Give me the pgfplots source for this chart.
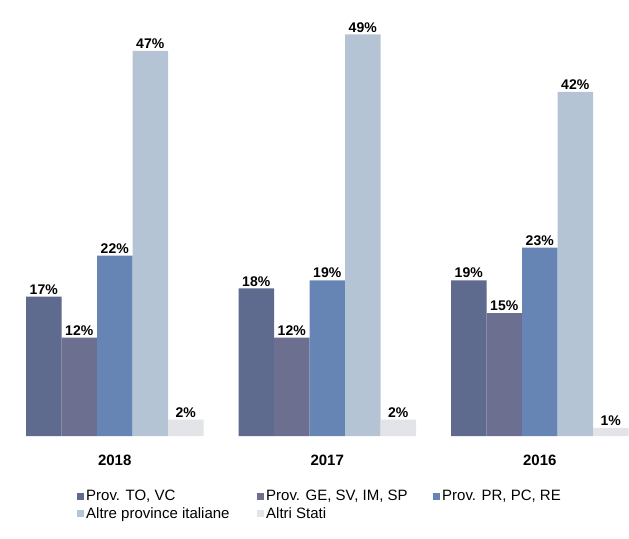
\documentclass[border=0pt]{standalone}
\usepackage{fontspec}
\setmainfont{Liberation Sans}
\usepackage{pgfplots}
\pgfplotsset{compat=1.18}
\definecolor{cA}{HTML}{5E6A8E}
\definecolor{cB}{HTML}{6C6F90}
\definecolor{cC}{HTML}{6684B4}
\definecolor{cD}{HTML}{B4C4D4}
\definecolor{cE}{HTML}{E2E4E8}
\begin{document}
\begin{tikzpicture}[x=1pt,y=1pt]
\begin{axis}[
  at={(0,0)}, anchor=south west,
  scale only axis, width=629pt, height=436pt,
  xmin=-0.54, xmax=2.42, ymin=0, ymax=53.2,
  ybar=0pt, bar width=35.5pt,
  axis lines=none,
  clip=false,
  /pgf/number format/assume math mode=true,
  nodes near coords={\pgfmathprintnumber{\pgfplotspointmeta}\%},
  every node near coord/.append style={font=\fontsize{14}{14}\selectfont\bfseries, text=black, inner sep=1pt, yshift=1pt},
  legend columns=3,
  legend style={draw=none, fill=none, font=\fontsize{15}{17}\selectfont,
     at={(74pt,-50pt)}, anchor=north west,
     /tikz/every even column/.append style={column sep=0pt},
     row sep=1pt},
  legend cell align=left,
  legend image code/.code={\fill[#1] (0pt,-3.5pt) rectangle (7pt,3.5pt);},
]
\addplot[fill=cA, draw=none] coordinates {(0,17) (1,18) (2,19)};
\addplot[fill=cB, draw=none] coordinates {(0,12) (1,12) (2,15)};
\addplot[fill=cC, draw=none] coordinates {(0,22) (1,19) (2,23)};
\addplot[fill=cD, draw=none] coordinates {(0,47) (1,49) (2,42)};
\addplot[fill=cE, draw=none] coordinates {(0,2) (1,2) (2,1)};
\legend{{\makebox[169pt][l]{Prov. TO, VC}},{\makebox[165pt][l]{Prov. GE, SV, IM, SP}},{Prov. PR, PC, RE},{\makebox[169pt][l]{Altre province italiane}},{\makebox[165pt][l]{Altri Stati}}}
\node[font=\fontsize{15}{15}\selectfont\bfseries] at (axis cs:0,-3) {2018};
\node[font=\fontsize{15}{15}\selectfont\bfseries] at (axis cs:1,-3) {2017};
\node[font=\fontsize{15}{15}\selectfont\bfseries] at (axis cs:2,-3) {2016};
\end{axis}
\path[use as bounding box] (0,-102) rectangle (629,436);
\end{tikzpicture}
\end{document}
